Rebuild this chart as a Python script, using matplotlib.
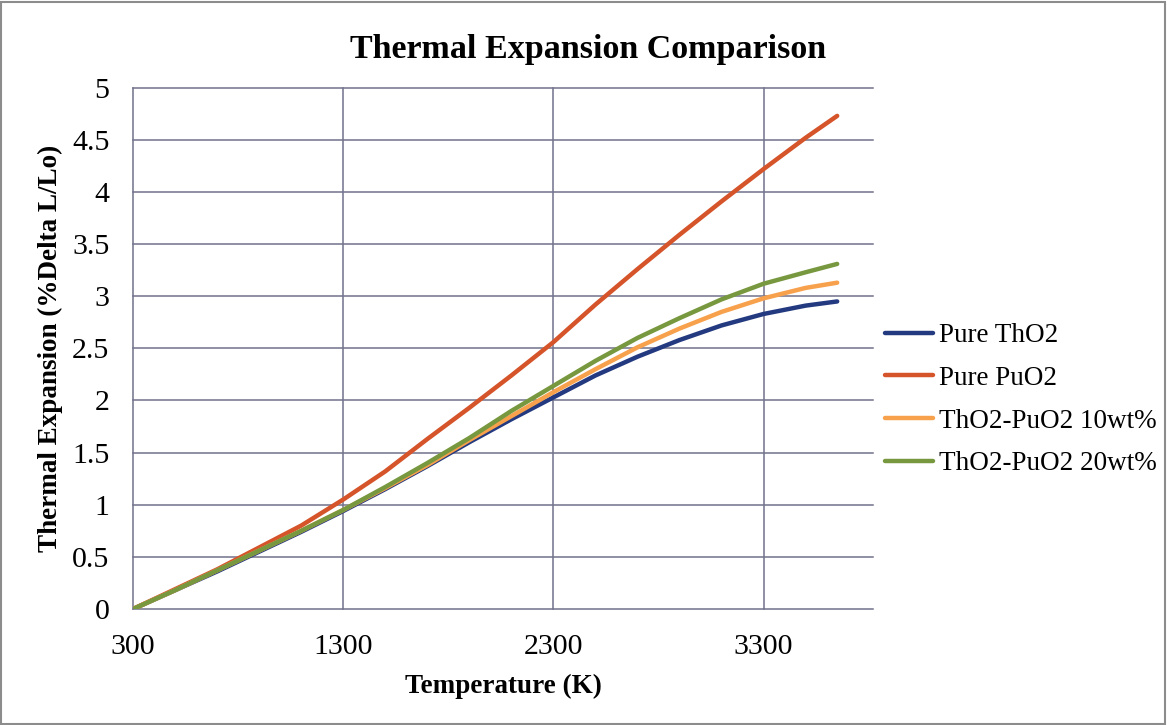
import matplotlib
matplotlib.use("Agg")
import matplotlib.pyplot as plt
from matplotlib.patches import Rectangle

## Datos (temperatura en K, expansion en %)
temperatura = [300, 500, 700, 900, 1100, 1300, 1500, 1700, 1900, 2100, 2300, 2500, 2700, 2900, 3100, 3300, 3500, 3650]
pure_tho2 = [0, 0.18, 0.36, 0.55, 0.74, 0.94, 1.15, 1.37, 1.60, 1.82, 2.03, 2.24, 2.42, 2.58, 2.72, 2.83, 2.91, 2.95]
pure_puo2 = [0, 0.19, 0.38, 0.59, 0.80, 1.05, 1.32, 1.63, 1.93, 2.24, 2.56, 2.92, 3.26, 3.59, 3.91, 4.22, 4.52, 4.73]
tho2_10wt = [0, 0.18, 0.37, 0.56, 0.75, 0.95, 1.16, 1.38, 1.62, 1.85, 2.08, 2.30, 2.51, 2.69, 2.85, 2.98, 3.08, 3.13]
tho2_20wt = [0, 0.18, 0.37, 0.56, 0.75, 0.95, 1.17, 1.40, 1.64, 1.90, 2.14, 2.38, 2.60, 2.79, 2.97, 3.12, 3.23, 3.31]

etiquetas = ["Pure ThO2", "Pure PuO2", "ThO2-PuO2 10wt%", "ThO2-PuO2 20wt%"]
colores = ["#243a80", "#d5542a", "#f7a14c", "#77983f"]
x_ticks = [300, 1300, 2300, 3300]
y_ticks = [0, 0.5, 1, 1.5, 2, 2.5, 3, 3.5, 4, 4.5, 5]

plt.rcParams["font.family"] = ["Liberation Serif", "DejaVu Serif"]

fig = plt.figure(figsize=(11.67, 7.25), dpi=100)
ax = fig.add_axes([0.114, 0.160, 0.634, 0.719])

series = [pure_tho2, pure_puo2, tho2_10wt, tho2_20wt]
for datos, etiqueta, color in zip(series, etiquetas, colores):
    ax.plot(temperatura, datos, color=color, linewidth=3.2, label=etiqueta, solid_capstyle="round", zorder=3)

ax.set_xlim(300, 3820)
ax.set_ylim(0, 5)
ax.set_xticks(x_ticks)
ax.set_yticks(y_ticks)
ax.set_yticklabels([("%g" % v) for v in y_ticks])
ax.tick_params(length=0, labelsize=21.5)
ax.tick_params(axis="x", pad=18)
ax.tick_params(axis="y", pad=17)
for s in ax.spines.values():
    s.set_visible(False)
ax.grid(True, color="#72728c", linewidth=1.1)
for linea in ax.get_xgridlines() + ax.get_ygridlines():
    linea.set_clip_on(False)

ax.set_xlabel("Temperature (K)", fontsize=19.5, fontweight="bold")
ax.set_ylabel("Thermal Expansion (%Delta L/Lo)", fontsize=19.5, fontweight="bold")
ax.xaxis.set_label_coords(0.5, -0.125)
ax.yaxis.set_label_coords(-0.094, 0.5)
fig.text(0.504, 0.932, "Thermal Expansion Comparison", fontsize=24.5, fontweight="bold", ha="center", va="center")

ax.legend(loc="upper left", bbox_to_anchor=(0.758, 0.554), bbox_transform=fig.transFigure,
          frameon=False, fontsize=19.5, handlelength=1.8, handletextpad=0.2,
          labelspacing=0.65, borderpad=0, borderaxespad=0)

## Marco de la grafica
fig.patches.append(Rectangle((0.001, 0.002), 0.997, 0.995, transform=fig.transFigure,
                             fill=False, edgecolor="#8c8c8c", linewidth=1.5))

fig.savefig("out.png", dpi=100)
